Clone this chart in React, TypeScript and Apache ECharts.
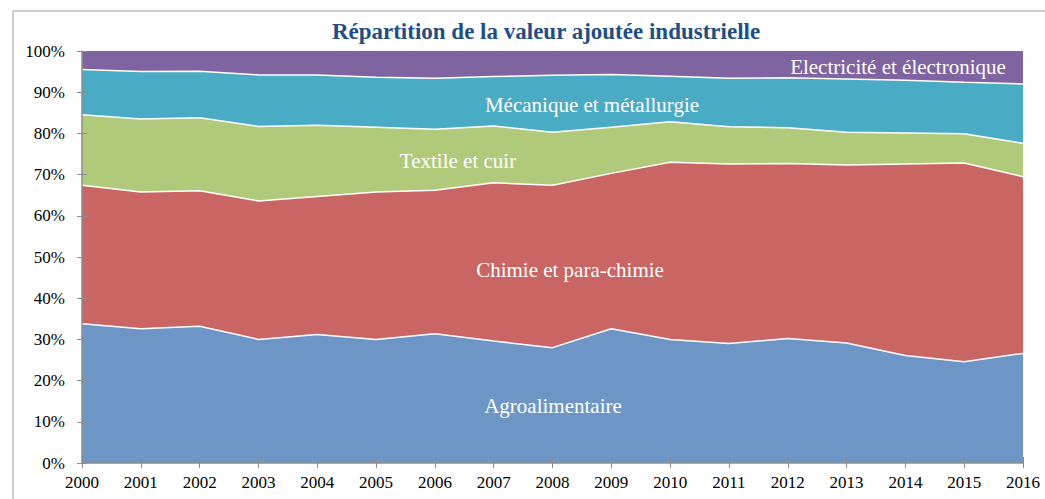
import React, { useEffect, useRef } from "react";
import * as echarts from "echarts";

const years = ["2000","2001","2002","2003","2004","2005","2006","2007","2008","2009","2010","2011","2012","2013","2014","2015","2016"];
const agro = [33.8, 32.6, 33.2, 30.0, 31.2, 30.0, 31.4, 29.6, 28.0, 32.6, 30.0, 29.0, 30.2, 29.1, 26.1, 24.6, 26.6];
const chimie = [33.6, 33.2, 32.9, 33.6, 33.5, 35.8, 34.8, 38.4, 39.4, 37.7, 43.0, 43.6, 42.5, 43.2, 46.5, 48.2, 42.9];
const textile = [17.1, 17.7, 17.7, 18.1, 17.3, 15.7, 14.8, 13.8, 12.9, 11.2, 9.8, 9.0, 8.7, 8.0, 7.5, 7.1, 8.1];
const mecanique = [11.0, 11.5, 11.3, 12.5, 12.2, 12.1, 12.4, 12.0, 13.8, 12.8, 11.1, 11.8, 12.1, 12.9, 12.8, 12.5, 14.4];
const electricite = [4.5, 5.0, 4.9, 5.8, 5.8, 6.4, 6.6, 6.2, 5.9, 5.7, 6.1, 6.6, 6.5, 6.8, 7.1, 7.6, 8.0];
const yTicks = [0, 10, 20, 30, 40, 50, 60, 70, 80, 90, 100];

const seriesNames = ["Agroalimentaire", "Chimie et para-chimie", "Textile et cuir", "Mécanique et métallurgie", "Electricité et électronique"];
const seriesData = [agro, chimie, textile, mecanique, electricite];
const colors = ["#6D96C7", "#C96563", "#B0C97B", "#4AABC5", "#8064A2"];

const SERIF = "'Liberation Serif', 'Times New Roman', serif";

export default function App() {
  const ref = useRef<HTMLDivElement>(null);
  useEffect(() => {
    if (!ref.current) return;
    const chart = echarts.init(ref.current, null, { renderer: "svg" });
    const axisGray = "#8C8C8C";
    const txt = (text: string, x: number, y: number) => ({
      type: "text",
      x,
      y,
      z: 10,
      silent: true,
      style: { text, align: "center", verticalAlign: "middle", fill: "#ffffff", fontFamily: SERIF, fontSize: 21 },
    });
    chart.setOption({
      animation: false,
      backgroundColor: "#ffffff",
      grid: { left: 82, right: 22, top: 51, bottom: 36 },
      xAxis: [
        {
          type: "category",
          data: years,
          boundaryGap: false,
          z: 5,
          axisLine: { lineStyle: { color: axisGray, width: 1.5 } },
          axisTick: { show: true, inside: false, length: 5, lineStyle: { color: axisGray } },
          axisLabel: { color: "#000", fontFamily: SERIF, fontSize: 17, margin: 11 },
          splitLine: { show: false },
        },
        {
          type: "category",
          data: years,
          boundaryGap: false,
          position: "bottom",
          z: 5,
          axisLine: { show: false },
          axisTick: { show: true, inside: true, length: 6, lineStyle: { color: axisGray } },
          axisLabel: { show: false },
          splitLine: { show: false },
        },
      ],
      yAxis: [
        {
          type: "value",
          min: yTicks[0],
          max: yTicks[yTicks.length - 1],
          interval: 10,
          z: 5,
          axisLine: { show: true, lineStyle: { color: axisGray, width: 1.5 } },
          axisTick: { show: true, inside: false, length: 5, lineStyle: { color: axisGray } },
          axisLabel: { color: "#000", fontFamily: SERIF, fontSize: 17, margin: 17, formatter: "{value}%" },
          splitLine: { show: false },
        },
        {
          type: "value",
          min: yTicks[0],
          max: yTicks[yTicks.length - 1],
          interval: 10,
          position: "left",
          z: 5,
          axisLine: { show: false },
          axisTick: { show: true, inside: true, length: 5, lineStyle: { color: axisGray } },
          axisLabel: { show: false },
          splitLine: { show: false },
        },
      ],
      title: {
        text: "Répartition de la valeur ajoutée industrielle",
        left: 541,
        top: 15,
        textAlign: "center",
        textStyle: { color: "#1F4E85", fontFamily: SERIF, fontWeight: "bold", fontSize: 23 },
      },
      series: seriesNames.map((name, i) => ({
        name,
        type: "line",
        stack: "total",
        data: seriesData[i],
        xAxisIndex: 0,
        yAxisIndex: 0,
        showSymbol: false,
        symbol: "none",
        smooth: false,
        lineStyle: { color: "#ffffff", width: i === 4 ? 0 : 1.5 },
        areaStyle: { color: colors[i], opacity: 1 },
        itemStyle: { color: colors[i] },
        z: 2,
      })),
      graphic: [
        { type: "line", shape: { x1: 13, y1: 11, x2: 1045, y2: 11 }, style: { stroke: "#BDBDBD", lineWidth: 1.5 }, silent: true },
        { type: "line", shape: { x1: 13, y1: 11, x2: 13, y2: 499 }, style: { stroke: "#BDBDBD", lineWidth: 1.5 }, silent: true },
        txt("Electricité et électronique", 898, 67),
        txt("Mécanique et métallurgie", 592, 105),
        txt("Textile et cuir", 458, 161),
        txt("Chimie et para-chimie", 570, 270),
        txt("Agroalimentaire", 553, 406),
      ],
    });
    return () => chart.dispose();
  }, []);
  return <div ref={ref} style={{ position: "fixed", left: 0, top: 0, width: 1045, height: 499 }} />;
}
